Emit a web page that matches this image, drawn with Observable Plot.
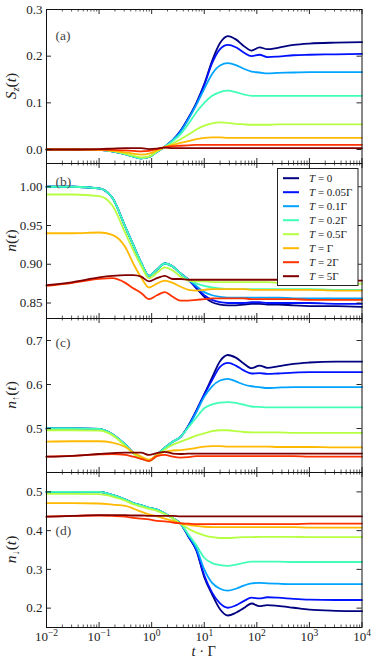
<!DOCTYPE html>
<html>
<head>
<meta charset="utf-8">
<script src="https://cdn.jsdelivr.net/npm/d3@7"></script>
<script src="https://cdn.jsdelivr.net/npm/@observablehq/plot@0.6"></script>
<style>
  body { margin: 0; background: #fff; }
  #chart { position: relative; width: 374px; height: 659px; font-family: "Liberation Serif", serif; }
  #chart > svg { position: absolute; left: 0; overflow: visible; }
  #chart svg, #chart svg text, #chart svg tspan { font-family: "Liberation Serif", "DejaVu Serif", serif !important; }
</style>
</head>
<body>
<div id="chart"></div>
<script>
// ---------- data ----------
const tempValues = ["0", "0.05Γ", "0.1Γ", "0.2Γ", "0.5Γ", "Γ", "2Γ", "5Γ"];
const tempColors = ["#000080", "#0012ff", "#00a4ff", "#41ffb6", "#b6ff41", "#ffb900", "#ff3200", "#800000"];

// log10(t·Γ) sample positions
const logT = [-2, -1.5, -1, -0.75, -0.5, -0.35, -0.2, -0.05, 0.1, 0.25, 0.4, 0.55, 0.7, 0.85,
              1.0, 1.15, 1.3, 1.45, 1.6, 1.75, 1.9, 2.05, 2.2, 2.4, 2.7, 3.0, 3.5, 4.0];

// (a) S_z(t)
const SzSeries = [
  [0, 0, -0.001, -0.004, -0.010, -0.015, -0.019, -0.016, -0.005, 0.006, 0.020, 0.040, 0.068, 0.100, 0.140, 0.190, 0.228, 0.243, 0.236, 0.222, 0.212, 0.219, 0.215, 0.218, 0.224, 0.227, 0.229, 0.230],
  [0, 0, -0.001, -0.004, -0.010, -0.015, -0.019, -0.016, -0.005, 0.006, 0.020, 0.040, 0.067, 0.098, 0.138, 0.185, 0.215, 0.224, 0.219, 0.208, 0.200, 0.203, 0.198, 0.199, 0.202, 0.203, 0.204, 0.205],
  [0, 0, -0.001, -0.004, -0.010, -0.015, -0.019, -0.016, -0.005, 0.006, 0.020, 0.038, 0.065, 0.096, 0.130, 0.162, 0.180, 0.185, 0.181, 0.173, 0.167, 0.165, 0.163, 0.164, 0.165, 0.166, 0.166, 0.166],
  [0, 0, -0.001, -0.004, -0.010, -0.015, -0.019, -0.016, -0.005, 0.006, 0.018, 0.033, 0.055, 0.080, 0.100, 0.115, 0.123, 0.126, 0.123, 0.118, 0.115, 0.115, 0.115, 0.115, 0.115, 0.115, 0.115, 0.115],
  [0, 0, -0.001, -0.003, -0.009, -0.013, -0.017, -0.015, -0.004, 0.005, 0.013, 0.022, 0.032, 0.043, 0.051, 0.056, 0.058, 0.057, 0.055, 0.054, 0.053, 0.053, 0.053, 0.054, 0.054, 0.054, 0.054, 0.054],
  [0, 0, -0.001, -0.003, -0.006, -0.009, -0.011, -0.009, -0.002, 0.005, 0.010, 0.014, 0.018, 0.022, 0.025, 0.026, 0.026, 0.025, 0.025, 0.025, 0.025, 0.025, 0.025, 0.025, 0.025, 0.025, 0.025, 0.025],
  [0, 0, 0, -0.001, -0.002, -0.003, -0.004, -0.003, 0.001, 0.005, 0.007, 0.008, 0.009, 0.010, 0.010, 0.010, 0.010, 0.010, 0.010, 0.010, 0.010, 0.010, 0.010, 0.010, 0.010, 0.010, 0.010, 0.010],
  [0, 0, 0.001, 0.002, 0.003, 0.003, 0.003, 0.001, 0.002, 0.004, 0.003, 0.003, 0.003, 0.003, 0.003, 0.003, 0.003, 0.003, 0.003, 0.003, 0.003, 0.003, 0.003, 0.003, 0.003, 0.003, 0.003, 0.003]
];

// (b) n(t)
const nSeries = [
  [1.000, 1.000, 0.998, 0.986, 0.948, 0.925, 0.902, 0.885, 0.893, 0.901, 0.897, 0.888, 0.880, 0.869, 0.858, 0.851, 0.848, 0.847, 0.847, 0.848, 0.849, 0.849, 0.848, 0.848, 0.847, 0.846, 0.846, 0.845],
  [1.000, 1.000, 0.998, 0.986, 0.948, 0.925, 0.902, 0.885, 0.893, 0.901, 0.897, 0.888, 0.880, 0.870, 0.860, 0.854, 0.851, 0.850, 0.850, 0.850, 0.851, 0.851, 0.850, 0.850, 0.850, 0.850, 0.849, 0.849],
  [1.000, 1.000, 0.998, 0.986, 0.948, 0.925, 0.902, 0.885, 0.893, 0.901, 0.897, 0.888, 0.880, 0.872, 0.864, 0.860, 0.858, 0.857, 0.857, 0.857, 0.857, 0.857, 0.857, 0.857, 0.856, 0.856, 0.856, 0.856],
  [1.000, 1.000, 0.998, 0.986, 0.948, 0.925, 0.902, 0.885, 0.893, 0.901, 0.897, 0.888, 0.880, 0.875, 0.872, 0.870, 0.869, 0.868, 0.868, 0.868, 0.868, 0.868, 0.868, 0.868, 0.868, 0.868, 0.867, 0.867],
  [0.990, 0.990, 0.988, 0.976, 0.940, 0.918, 0.898, 0.882, 0.889, 0.896, 0.892, 0.884, 0.879, 0.878, 0.878, 0.877, 0.877, 0.877, 0.877, 0.877, 0.877, 0.877, 0.877, 0.876, 0.876, 0.876, 0.875, 0.875],
  [0.940, 0.940, 0.941, 0.938, 0.922, 0.901, 0.883, 0.870, 0.875, 0.879, 0.876, 0.871, 0.867, 0.866, 0.867, 0.868, 0.868, 0.868, 0.868, 0.868, 0.867, 0.867, 0.867, 0.867, 0.867, 0.867, 0.866, 0.866],
  [0.872, 0.876, 0.881, 0.882, 0.876, 0.869, 0.863, 0.855, 0.860, 0.864, 0.858, 0.853, 0.853, 0.854, 0.855, 0.856, 0.856, 0.856, 0.856, 0.856, 0.855, 0.855, 0.855, 0.855, 0.855, 0.854, 0.854, 0.854],
  [0.873, 0.877, 0.883, 0.885, 0.886, 0.886, 0.884, 0.878, 0.882, 0.885, 0.881, 0.881, 0.880, 0.880, 0.880, 0.880, 0.880, 0.880, 0.880, 0.880, 0.880, 0.880, 0.880, 0.880, 0.880, 0.880, 0.879, 0.879]
];

// (c) n_up(t)
const nUpSeries = [
  [0.500, 0.500, 0.499, 0.487, 0.463, 0.445, 0.433, 0.427, 0.441, 0.456, 0.470, 0.481, 0.507, 0.541, 0.578, 0.616, 0.653, 0.667, 0.661, 0.648, 0.637, 0.643, 0.638, 0.641, 0.647, 0.650, 0.652, 0.652],
  [0.500, 0.500, 0.499, 0.487, 0.463, 0.445, 0.433, 0.427, 0.441, 0.456, 0.470, 0.481, 0.506, 0.540, 0.577, 0.610, 0.640, 0.649, 0.643, 0.632, 0.625, 0.626, 0.624, 0.625, 0.627, 0.628, 0.628, 0.628],
  [0.500, 0.500, 0.499, 0.487, 0.463, 0.445, 0.433, 0.427, 0.441, 0.456, 0.470, 0.481, 0.505, 0.537, 0.572, 0.596, 0.609, 0.613, 0.607, 0.600, 0.596, 0.594, 0.592, 0.593, 0.594, 0.594, 0.594, 0.594],
  [0.500, 0.500, 0.499, 0.487, 0.463, 0.445, 0.433, 0.427, 0.441, 0.456, 0.470, 0.481, 0.503, 0.525, 0.546, 0.555, 0.559, 0.560, 0.558, 0.554, 0.550, 0.549, 0.548, 0.548, 0.548, 0.548, 0.548, 0.548],
  [0.496, 0.496, 0.495, 0.485, 0.460, 0.443, 0.432, 0.426, 0.438, 0.452, 0.463, 0.470, 0.477, 0.484, 0.489, 0.494, 0.496, 0.496, 0.494, 0.492, 0.491, 0.491, 0.491, 0.491, 0.490, 0.490, 0.490, 0.490],
  [0.470, 0.471, 0.471, 0.468, 0.458, 0.446, 0.436, 0.429, 0.440, 0.447, 0.450, 0.451, 0.453, 0.456, 0.459, 0.460, 0.460, 0.459, 0.459, 0.459, 0.459, 0.459, 0.459, 0.458, 0.458, 0.458, 0.457, 0.457],
  [0.436, 0.438, 0.441, 0.442, 0.440, 0.436, 0.431, 0.426, 0.437, 0.440, 0.436, 0.434, 0.435, 0.437, 0.437, 0.437, 0.437, 0.437, 0.437, 0.437, 0.437, 0.437, 0.437, 0.437, 0.437, 0.436, 0.436, 0.436],
  [0.436, 0.438, 0.442, 0.444, 0.445, 0.445, 0.445, 0.440, 0.444, 0.447, 0.443, 0.442, 0.443, 0.443, 0.443, 0.443, 0.443, 0.443, 0.443, 0.443, 0.443, 0.443, 0.443, 0.443, 0.443, 0.443, 0.443, 0.443]
];

// (d) n_down(t)
const nDownSeries = [
  [0.500, 0.500, 0.500, 0.492, 0.480, 0.471, 0.465, 0.459, 0.454, 0.444, 0.432, 0.418, 0.384, 0.349, 0.280, 0.235, 0.197, 0.181, 0.188, 0.200, 0.212, 0.205, 0.208, 0.206, 0.201, 0.196, 0.193, 0.192],
  [0.500, 0.500, 0.500, 0.492, 0.480, 0.471, 0.465, 0.459, 0.454, 0.444, 0.432, 0.418, 0.385, 0.350, 0.285, 0.240, 0.212, 0.201, 0.207, 0.218, 0.227, 0.225, 0.228, 0.227, 0.224, 0.222, 0.221, 0.221],
  [0.500, 0.500, 0.500, 0.492, 0.480, 0.471, 0.465, 0.459, 0.454, 0.444, 0.432, 0.418, 0.387, 0.355, 0.300, 0.265, 0.250, 0.245, 0.250, 0.258, 0.264, 0.265, 0.264, 0.263, 0.262, 0.262, 0.262, 0.262],
  [0.500, 0.500, 0.500, 0.492, 0.480, 0.471, 0.465, 0.459, 0.454, 0.444, 0.432, 0.418, 0.390, 0.362, 0.330, 0.316, 0.311, 0.309, 0.312, 0.317, 0.320, 0.320, 0.320, 0.320, 0.319, 0.319, 0.319, 0.319],
  [0.495, 0.495, 0.494, 0.488, 0.477, 0.468, 0.462, 0.456, 0.451, 0.443, 0.432, 0.418, 0.405, 0.395, 0.388, 0.383, 0.381, 0.381, 0.382, 0.383, 0.383, 0.384, 0.384, 0.384, 0.384, 0.383, 0.383, 0.383],
  [0.471, 0.471, 0.470, 0.467, 0.464, 0.457, 0.449, 0.442, 0.437, 0.431, 0.425, 0.419, 0.415, 0.412, 0.410, 0.409, 0.409, 0.409, 0.409, 0.409, 0.409, 0.409, 0.409, 0.409, 0.409, 0.408, 0.408, 0.408],
  [0.436, 0.438, 0.439, 0.438, 0.436, 0.433, 0.431, 0.429, 0.425, 0.424, 0.421, 0.419, 0.418, 0.417, 0.417, 0.417, 0.417, 0.417, 0.417, 0.417, 0.417, 0.417, 0.417, 0.417, 0.417, 0.418, 0.418, 0.418],
  [0.436, 0.438, 0.440, 0.440, 0.440, 0.439, 0.439, 0.438, 0.438, 0.438, 0.438, 0.437, 0.437, 0.437, 0.437, 0.437, 0.437, 0.437, 0.437, 0.437, 0.437, 0.437, 0.437, 0.437, 0.437, 0.437, 0.437, 0.437]
];

const xTickExponents = [-2, -1, 0, 1, 2, 3, 4];
const minorMultipliers = [2, 3, 4, 5, 6, 7, 8, 9];
const SzTicks = [0.0, 0.1, 0.2, 0.3];
const nTicks = [0.85, 0.90, 0.95, 1.00];
const nUpTicks = [0.5, 0.6, 0.7];
const nDownTicks = [0.2, 0.3, 0.4, 0.5];

// ---------- layout ----------
const W = 374, ML = 46, MR = 12.5, IW = W - ML - MR;
const FONT = '"Liberation Serif", "DejaVu Serif", serif';
const majorX = xTickExponents.map(e => Math.pow(10, e));
const minorX = xTickExponents.slice(0, -1).flatMap(e => minorMultipliers.map(m => m * Math.pow(10, e)));

function toRows(series) {
  return series.flatMap((vals, k) => vals.map((v, i) => ({t: Math.pow(10, logT[i]), v, T: tempValues[k]})));
}

const panels = [
  {series: SzSeries, domain: [-0.03, 0.3], ticks: SzTicks, fmt: ".1f", letter: "(a)", letterDy: 21, top: 0, mt: 9, h: 154, mb: 1,
   ylab: [["S", "i"], ["z", "sub"], ["(", ""], ["t", "i"], [")", ""]]},
  {series: nSeries, domain: [0.83, 1.03], ticks: nTicks, fmt: ".2f", letter: "(b)", letterDy: 13, top: 162, mt: 1, h: 155, mb: 1,
   ylab: [["n", "i"], ["(", ""], ["t", "i"], [")", ""]]},
  {series: nUpSeries, domain: [0.40, 0.75], ticks: nUpTicks, fmt: ".1f", letter: "(c)", letterDy: 19, top: 317, mt: 1, h: 154, mb: 1,
   ylab: [["n", "i"], ["↑", "sub"], ["(", ""], ["t", "i"], [")", ""]]},
  {series: nDownSeries, domain: [0.15, 0.55], ticks: nDownTicks, fmt: ".1f", letter: "(d)", letterDy: 53, top: 471, mt: 1, h: 155, mb: 32, xAxis: true,
   ylab: [["n", "i"], ["↓", "sub"], ["(", ""], ["t", "i"], [")", ""]]}
];

const chart = document.getElementById("chart");

panels.forEach(p => {
  const marks = [
    Plot.line(toRows(p.series), {x: "t", y: "v", stroke: "T", strokeWidth: 1.8, curve: "monotone-x"}),
    Plot.tickX(majorX, {x: d => d, insetTop: p.h - 5, stroke: "#111", strokeWidth: 0.9}),
    Plot.tickX(majorX, {x: d => d, insetBottom: p.h - 5, stroke: "#111", strokeWidth: 0.9}),
    Plot.tickX(minorX, {x: d => d, insetTop: p.h - 2.5, stroke: "#111", strokeWidth: 0.7}),
    Plot.tickX(minorX, {x: d => d, insetBottom: p.h - 2.5, stroke: "#111", strokeWidth: 0.7}),
    Plot.tickY(p.ticks, {y: d => d, insetRight: IW - 5, stroke: "#111", strokeWidth: 0.9}),
    Plot.tickY(p.ticks, {y: d => d, insetLeft: IW - 5, stroke: "#111", strokeWidth: 0.9}),
    Plot.axisY({ticks: p.ticks, tickSize: 0, tickPadding: 4, tickFormat: d3.format(p.fmt), label: null, fontSize: 13}),
    Plot.text([p.letter], {frameAnchor: "top-left", dx: 9, dy: p.letterDy, textAnchor: "start", fontSize: 13.5, fill: "#444"}),
    Plot.frame({stroke: "#111", strokeWidth: 1})
  ];
  if (p.xAxis) {
    marks.push(Plot.axisX({ticks: majorX, tickSize: 0, tickPadding: 4, label: null, fontSize: 13,
      tickFormat: d => "10^" + String(Math.round(Math.log10(d))).replace("-", "−")}));
  }
  const svg = Plot.plot({
    width: W,
    height: p.mt + p.h + p.mb,
    marginLeft: ML, marginRight: MR, marginTop: p.mt, marginBottom: p.mb,
    style: {background: "transparent", overflow: "visible", fontFamily: FONT, fontSize: "13px", color: "#222"},
    x: {type: "log", domain: [1e-2, 1e4], axis: p.xAxis ? undefined : null},
    y: {domain: p.domain},
    color: {domain: tempValues, range: tempColors},
    marks
  });
  svg.style.top = p.top + "px";
  svg.setAttribute("font-family", FONT);
  chart.appendChild(svg);

  const s = d3.select(svg);
  // superscript exponents on x tick labels
  s.selectAll('g[aria-label="x-axis tick label"] text').each(function () {
    const str = this.textContent;
    if (!str.includes("^")) return;
    const [base, exp] = str.split("^");
    const t = d3.select(this);
    t.text(null);
    t.append("tspan").text(base);
    t.append("tspan").attr("dy", "-5").style("font-size", "9.5px").text(exp);
  });
  // y-axis label
  const cy = p.mt + p.h / 2;
  const yl = s.append("text")
    .attr("transform", `translate(16,${cy}) rotate(-90)`)
    .attr("text-anchor", "middle")
    .attr("fill", "#222")
    .style("font-size", "15.5px");
  p.ylab.forEach(([txt, kind], i) => {
    const ts = yl.append("tspan").text(txt);
    if (kind === "i") ts.style("font-style", "italic");
    if (kind === "sub") ts.attr("dy", 3).style("font-size", "10.5px").style("font-style", "italic");
    if (i > 0 && p.ylab[i - 1][1] === "sub") ts.attr("dy", -3);
  });
  // x-axis title
  if (p.xAxis) {
    const xl = s.append("text")
      .attr("x", ML + IW / 2)
      .attr("y", p.mt + p.h + p.mb - 3)
      .attr("text-anchor", "middle")
      .attr("fill", "#222")
      .style("font-size", "14.5px");
    xl.append("tspan").style("font-style", "italic").text("t");
    xl.append("tspan").text(" · Γ");
  }
});

// legend (inside panel b)
const leg = d3.select(chart).append("svg")
  .attr("width", 82).attr("height", 119)
  .style("position", "absolute").style("left", "276.5px").style("top", "167.5px");
leg.append("rect").attr("x", 0.5).attr("y", 0.5).attr("width", 80.5).attr("height", 117)
  .attr("fill", "#fff").attr("stroke", "#222").attr("stroke-width", 1);
const rowsG = leg.selectAll("g.row").data(tempValues).join("g")
  .attr("class", "row")
  .attr("transform", (d, i) => `translate(0,${10.2 + 14 * i})`);
rowsG.append("line").attr("x1", 6).attr("x2", 22).attr("y1", 0).attr("y2", 0)
  .attr("stroke", (d, i) => tempColors[i]).attr("stroke-width", 2);
const lt = rowsG.append("text").attr("x", 32).attr("dy", "0.35em")
  .attr("fill", "#222").style("font-size", "11px");
lt.append("tspan").style("font-style", "italic").text("T");
lt.append("tspan").text(d => " = " + d);
</script>
</body>
</html>
